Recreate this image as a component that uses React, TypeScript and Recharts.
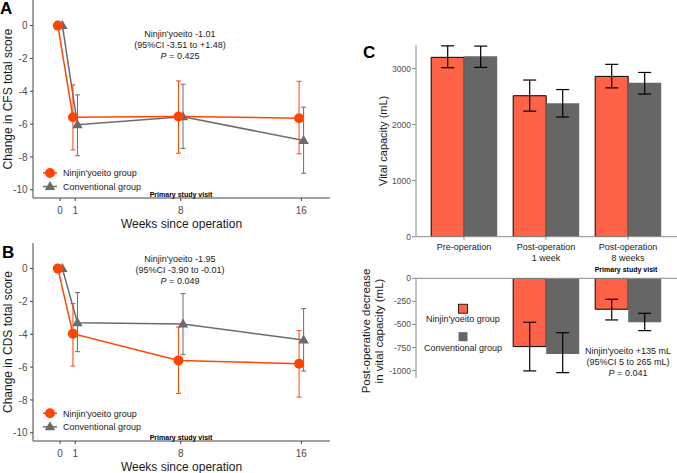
import React from "react";
import { LineChart, Line, XAxis, YAxis, ErrorBar, BarChart, Bar } from "recharts";

// Weeks since operation and axis ticks for the score panels
const weeks = [0, 1, 8, 16];
const weekTicks = [0, 1, 8, 16];
const scoreTicks = [0, -2, -4, -6, -8, -10];

// Change in CFS total score: mean with 95% CI bounds
const cfsNinjinMean = [0, -5.58, -5.54, -5.64];
const cfsNinjinLow = [null, -7.57, -7.77, -7.81];
const cfsNinjinHigh = [null, -3.61, -3.37, -3.39];
const cfsConvMean = [0, -6.04, -5.55, -7.0];
const cfsConvLow = [null, -7.93, -7.48, -8.99];
const cfsConvHigh = [null, -4.22, -3.57, -4.97];

// Change in CDS total score
const cdsNinjinMean = [0, -3.96, -5.59, -5.79];
const cdsNinjinLow = [null, -5.93, -7.6, -7.83];
const cdsNinjinHigh = [null, -2.13, -3.56, -3.78];
const cdsConvMean = [0, -3.3, -3.37, -4.35];
const cdsConvLow = [null, -5.06, -5.24, -6.24];
const cdsConvHigh = [null, -1.46, -1.52, -2.44];

// Vital capacity by visit
const visits = ["Pre-operation", "Post-operation\n1 week", "Post-operation\n8 weeks"];
const vcTicks = [0, 1000, 2000, 3000];
const vcNinjinMean = [3200, 2515, 2860];
const vcNinjinLow = [3015, 2240, 2655];
const vcNinjinHigh = [3405, 2795, 3075];
const vcConvMean = [3220, 2380, 2745];
const vcConvLow = [3020, 2135, 2545];
const vcConvHigh = [3400, 2625, 2930];

// Post-operative decrease in vital capacity
const decTicks = [0, -250, -500, -750, -1000];
const decNinjinMean = [null, -740, -335];
const decNinjinLow = [null, -1003, -451];
const decNinjinHigh = [null, -476, -227];
const decConvMean = [null, -819, -476];
const decConvLow = [null, -1022, -567];
const decConvHigh = [null, -589, -379];

const ORANGE = "#FF4500";
const GRAY = "#6B6B6B";
const TOMATO = "#FF6347";
const BAR_GRAY = "#666666";
const AXIS = "#444444";
const AXIS_C = "#8A8A8A";
const TICK = "#4D4D4D";
const INK = "#1A1A1A";

const DODGE = 0.15;

const ci = (m: number | null, lo: number | null, hi: number | null) =>
  m == null || lo == null || hi == null ? null : [m - lo, hi - m];

function scoreSeries(mean: number[], low: (number | null)[], high: (number | null)[], shift: number) {
  return weeks.map((w, i) => ({ x: w + shift, y: mean[i], err: ci(mean[i], low[i], high[i]) }));
}

function TriangleDot(props: any) {
  const { cx, cy } = props;
  if (cx == null || cy == null) return null;
  return <path d={`M${cx},${cy - 5.5}L${cx + 5.2},${cy + 3.5}L${cx - 5.2},${cy + 3.5}Z`} fill={GRAY} />;
}

function ScorePanel({ ninjin, conv, yLabel }: { ninjin: any[]; conv: any[]; yLabel: string }) {
  return (
    <LineChart width={340} height={230} margin={{ top: 0, right: 10, left: 0, bottom: 0 }}>
      <XAxis
        type="number"
        dataKey="x"
        domain={[-1.8, 17.9]}
        ticks={weekTicks}
        interval={0}
        allowDataOverflow
        height={32}
        tickSize={3}
        tickMargin={6}
        stroke={AXIS}
        tick={{ fontSize: 10, fill: TICK }}
        label={{ value: "Weeks since operation", position: "insideBottom", offset: 2.5, fontSize: 12, fill: INK }}
      />
      <YAxis
        type="number"
        domain={[-10.5, 1.56]}
        ticks={scoreTicks}
        interval={0}
        allowDataOverflow
        width={33}
        tickSize={3}
        tickMargin={2.5}
        stroke={AXIS}
        tick={{ fontSize: 10, fill: TICK }}
        label={{
          value: yLabel,
          angle: -90,
          position: "insideLeft",
          offset: 8,
          fontSize: 12,
          fill: INK,
          style: { textAnchor: "middle" },
        }}
      />
      <Line
        data={conv}
        dataKey="y"
        type="linear"
        stroke={GRAY}
        strokeWidth={1.5}
        dot={(p: any) => <TriangleDot key={`tri-${p.index}`} cx={p.cx} cy={p.cy} />}
        activeDot={false}
        isAnimationActive={false}
      >
        <ErrorBar dataKey="err" direction="y" width={2.5} stroke={GRAY} strokeWidth={1} />
      </Line>
      <Line
        data={ninjin}
        dataKey="y"
        type="linear"
        stroke={ORANGE}
        strokeWidth={1.5}
        dot={{ r: 5, fill: ORANGE, stroke: ORANGE, strokeWidth: 0 }}
        activeDot={false}
        isAnimationActive={false}
      >
        <ErrorBar dataKey="err" direction="y" width={2.5} stroke={ORANGE} strokeWidth={1} />
      </Line>
    </LineChart>
  );
}

function VisitTick({ x, y, payload }: any) {
  const lines = String(payload.value).split("\n");
  return (
    <text x={x} y={y} textAnchor="middle" fontSize={9} fill={INK}>
      {lines.map((l, i) => (
        <tspan key={i} x={x} dy={i === 0 ? "0.71em" : 10.5}>
          {l}
        </tspan>
      ))}
    </text>
  );
}

function ScoreLegend({ y }: { y: number }) {
  const y2 = y + 13.5;
  return (
    <g>
      <line x1={43} x2={57} y1={y} y2={y} stroke={ORANGE} strokeWidth={1.5} />
      <circle cx={50} cy={y} r={5} fill={ORANGE} />
      <text x={63} y={y + 3.2} fontSize={9} fill={INK}>Ninjin'yoeito group</text>
      <line x1={43} x2={57} y1={y2} y2={y2} stroke={GRAY} strokeWidth={1.5} />
      <TriangleDot cx={50} cy={y2} />
      <text x={63} y={y2 + 3.2} fontSize={9} fill={INK}>Conventional group</text>
    </g>
  );
}

function Estimate({ x, y, lines, p }: { x: number; y: number; lines: string[]; p: string }) {
  return (
    <text x={x} y={y} textAnchor="middle" fontSize={9} fill={INK}>
      <tspan x={x}>{lines[0]}</tspan>
      <tspan x={x} dy={11}>{lines[1]}</tspan>
      <tspan x={x} dy={11}>
        <tspan fontStyle="italic">P</tspan> = {p}
      </tspan>
    </text>
  );
}

export default function App() {
  const cfsNinjin = scoreSeries(cfsNinjinMean, cfsNinjinLow, cfsNinjinHigh, -DODGE);
  const cfsConv = scoreSeries(cfsConvMean, cfsConvLow, cfsConvHigh, DODGE);
  const cdsNinjin = scoreSeries(cdsNinjinMean, cdsNinjinLow, cdsNinjinHigh, -DODGE);
  const cdsConv = scoreSeries(cdsConvMean, cdsConvLow, cdsConvHigh, DODGE);

  const vcRows = visits.map((name, i) => ({
    name,
    ninjin: vcNinjinMean[i],
    ninjinErr: ci(vcNinjinMean[i], vcNinjinLow[i], vcNinjinHigh[i]),
    conv: vcConvMean[i],
    convErr: ci(vcConvMean[i], vcConvLow[i], vcConvHigh[i]),
  }));
  const decRows = visits.map((name, i) => ({
    name,
    ninjin: decNinjinMean[i],
    ninjinErr: ci(decNinjinMean[i], decNinjinLow[i], decNinjinHigh[i]),
    conv: decConvMean[i],
    convErr: ci(decConvMean[i], decConvLow[i], decConvHigh[i]),
  }));

  const bars = (
    <>
      <Bar dataKey="ninjin" fill={TOMATO} stroke="#000" strokeWidth={1} isAnimationActive={false}>
        <ErrorBar dataKey="ninjinErr" width={6.5} stroke="#000" strokeWidth={1.2} />
      </Bar>
      <Bar dataKey="conv" fill={BAR_GRAY} isAnimationActive={false}>
        <ErrorBar dataKey="convErr" width={6.5} stroke="#000" strokeWidth={1.2} />
      </Bar>
    </>
  );

  return (
    <div
      style={{
        position: "absolute",
        left: 0,
        top: 0,
        width: 677,
        height: 473,
        background: "#fff",
        fontFamily: "'Liberation Sans', Arial, sans-serif",
      }}
    >
      <div style={{ position: "absolute", left: 0, top: 0 }}>
        <ScorePanel ninjin={cfsNinjin} conv={cfsConv} yLabel="Change in CFS total score" />
      </div>
      <div style={{ position: "absolute", left: 0, top: 243 }}>
        <ScorePanel ninjin={cdsNinjin} conv={cdsConv} yLabel="Change in CDS total score" />
      </div>

      <div style={{ position: "absolute", left: 340, top: 0 }}>
        <BarChart
          width={337}
          height={267}
          data={vcRows}
          margin={{ top: 45, right: 0, left: 0, bottom: 0 }}
          barCategoryGap="10%"
          barGap={0}
        >
          <XAxis
            dataKey="name"
            interval={0}
            padding={{ left: 7, right: 8 }}
            height={30.3}
            tickSize={3}
            tickMargin={4}
            stroke={AXIS_C}
            tick={<VisitTick />}
          />
          <YAxis
            domain={[0, 3420]}
            ticks={vcTicks}
            interval={0}
            allowDataOverflow
            width={76}
            tickSize={4}
            tickMargin={1}
            stroke={AXIS_C}
            tick={{ fontSize: 8.5, fill: TICK }}
            label={{
              value: "Vital capacity (mL)",
              angle: -90,
              position: "insideLeft",
              offset: 42.7,
              fontSize: 11,
              fill: INK,
              style: { textAnchor: "middle" },
            }}
          />
          {bars}
        </BarChart>
      </div>

      <div style={{ position: "absolute", left: 340, top: 270 }}>
        <BarChart
          width={337}
          height={110}
          data={decRows}
          margin={{ top: 0, right: 0, left: 0, bottom: 2 }}
          barCategoryGap="10%"
          barGap={0}
        >
          <XAxis
            dataKey="name"
            orientation="top"
            interval={0}
            padding={{ left: 7, right: 8 }}
            height={8.3}
            tickSize={3}
            tick={false}
            stroke={AXIS_C}
          />
          <YAxis
            domain={[-1080, 0]}
            ticks={decTicks}
            interval={0}
            allowDataOverflow
            width={76}
            tickSize={4}
            tickMargin={1}
            stroke={AXIS_C}
            tick={{ fontSize: 8.5, fill: TICK }}
          />
          {bars}
        </BarChart>
      </div>

      <svg
        width={677}
        height={473}
        style={{ position: "absolute", left: 0, top: 0, pointerEvents: "none" }}
      >
        {/* panel letters */}
        <text x={0} y={14} fontSize={17} fontWeight="bold" fill="#000">A</text>
        <text x={2} y={258.3} fontSize={17} fontWeight="bold" fill="#000">B</text>
        <text x={363} y={58.3} fontSize={17} fontWeight="bold" fill="#000">C</text>

        {/* panel A */}
        <Estimate x={180} y={36.7} lines={["Ninjin'yoeito -1.01", "(95%CI -3.51 to +1.48)"]} p="0.425" />
        <ScoreLegend y={173} />
        <text x={181} y={196.8} textAnchor="middle" fontSize={7} fontWeight="bold" fill="#000">
          Primary study visit
        </text>

        {/* panel B */}
        <Estimate x={180} y={261.5} lines={["Ninjin'yoeito -1.95", "(95%CI -3.90 to -0.01)"]} p="0.049" />
        <ScoreLegend y={413.3} />
        <text x={181} y={439.8} textAnchor="middle" fontSize={7} fontWeight="bold" fill="#000">
          Primary study visit
        </text>

        {/* panel C */}
        <text x={626} y={271.8} textAnchor="middle" fontSize={7} fontWeight="bold" fill="#000">
          Primary study visit
        </text>
        <text transform="translate(370, 331) rotate(-90)" textAnchor="middle" fontSize={11.5} fill={INK}>
          <tspan x={0} dy={0}>Post-operative decrease</tspan>
          <tspan x={0} dy={13}>in vital capacity (mL)</tspan>
        </text>
        <rect x={458.5} y={304.2} width={9} height={9} fill={TOMATO} stroke="#000" strokeWidth={0.8} />
        <text x={463} y={322.2} textAnchor="middle" fontSize={9} fill={INK}>Ninjin'yoeito group</text>
        <rect x={458.5} y={332.2} width={9} height={9} fill={BAR_GRAY} />
        <text x={463} y={350.9} textAnchor="middle" fontSize={9} fill={INK}>Conventional group</text>
        <Estimate x={628} y={353.9} lines={["Ninjin'yoeito +135 mL", "(95%CI 5 to 265 mL)"]} p="0.041" />
      </svg>
    </div>
  );
}
